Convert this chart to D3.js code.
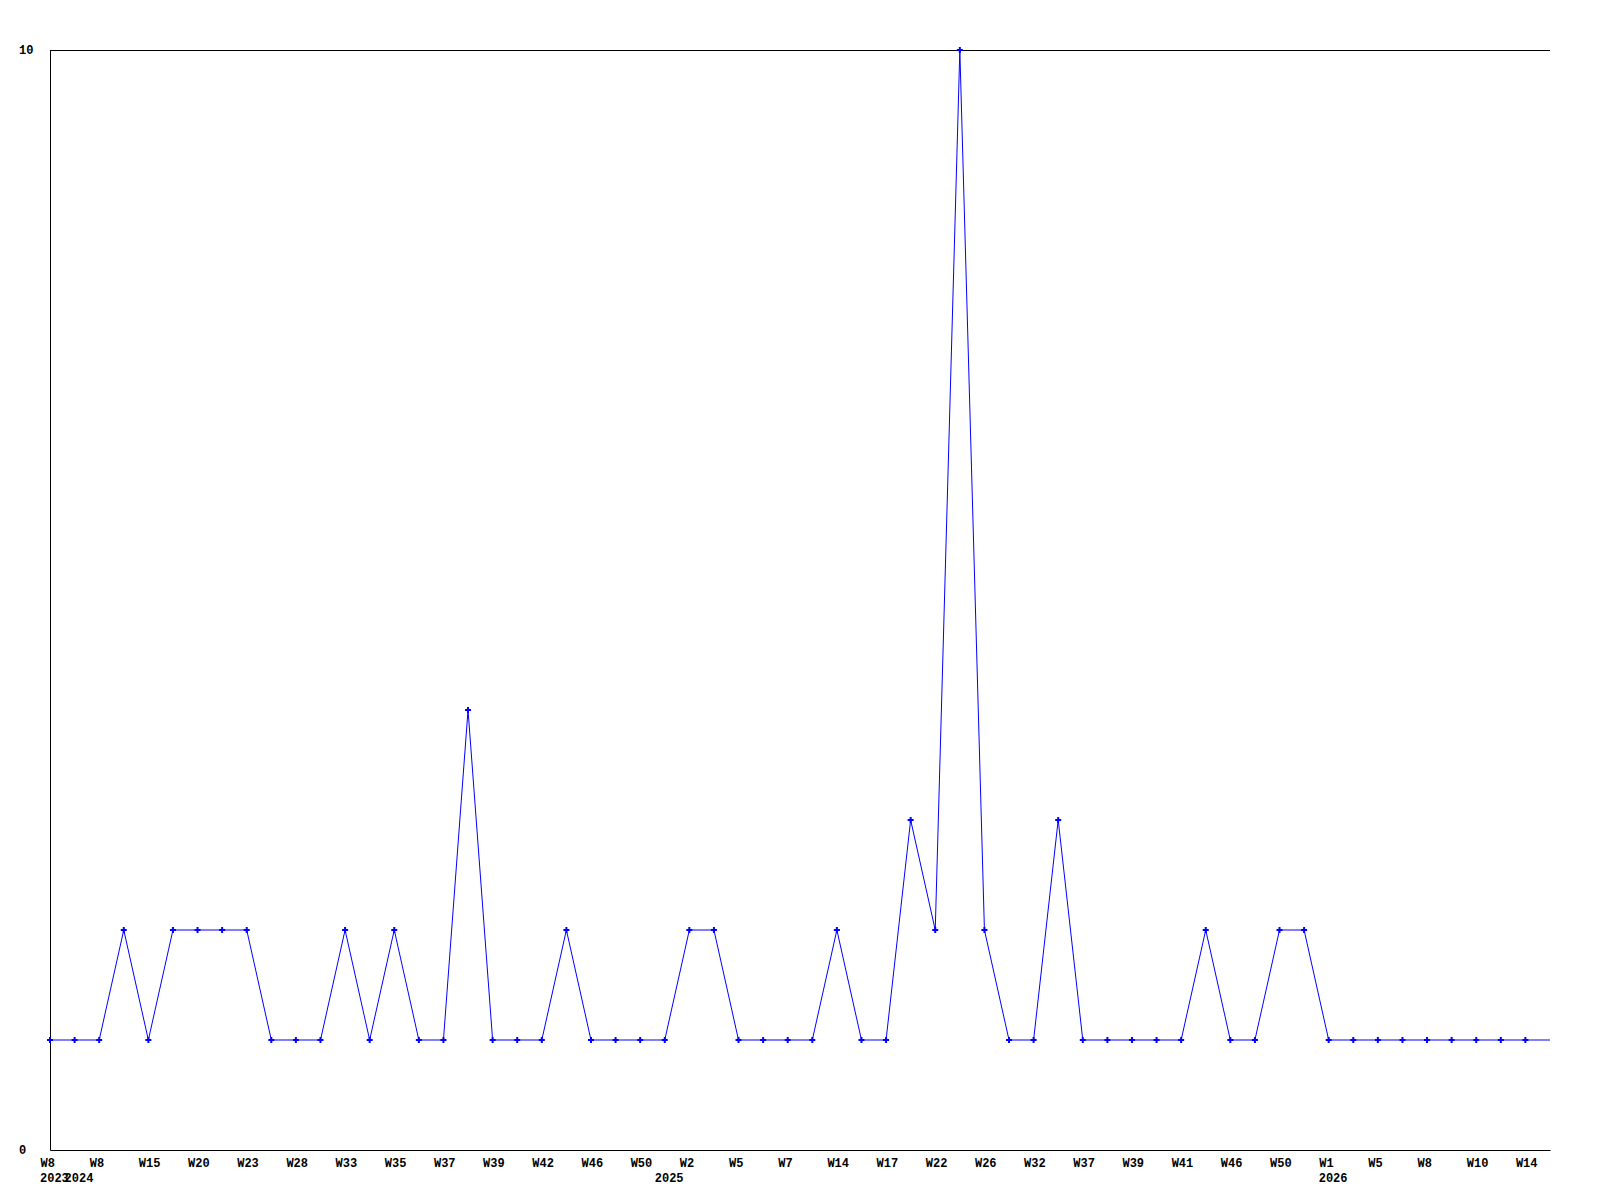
<!DOCTYPE html>
<html>
<head>
    <style>
        body { margin: 0; background: #fff; }
        svg text {
            font-family: "Liberation Mono", "DejaVu Sans Mono", monospace;
            font-size: 12px;
            font-weight: bold;
            fill: #000;
        }
    </style>
    <script src="https://d3js.org/d3.v7.min.js"></script>
</head>
<body>
    <svg width="1600" height="1200"></svg>
    <script>
        // weekly counts, one per category on the x axis
        var weeks = ["W8", "W3", "W8", "W11", "W15", "W17", "W20", "W21", "W23", "W25",
                     "W28", "W30", "W33", "W34", "W35", "W36", "W37", "W38", "W39", "W41",
                     "W42", "W44", "W46", "W48", "W50", "W1", "W2", "W3", "W5", "W6",
                     "W7", "W10", "W14", "W15", "W17", "W19", "W22", "W24", "W26", "W28",
                     "W32", "W35", "W37", "W38", "W39", "W40", "W41", "W44", "W46", "W48",
                     "W50", "W52", "W1", "W3", "W5", "W6", "W8", "W9", "W10", "W12",
                     "W14", "W15"];
        var years = [2023, 2024, 2024, 2024, 2024, 2024, 2024, 2024, 2024, 2024,
                     2024, 2024, 2024, 2024, 2024, 2024, 2024, 2024, 2024, 2024,
                     2024, 2024, 2024, 2024, 2024, 2025, 2025, 2025, 2025, 2025,
                     2025, 2025, 2025, 2025, 2025, 2025, 2025, 2025, 2025, 2025,
                     2025, 2025, 2025, 2025, 2025, 2025, 2025, 2025, 2025, 2025,
                     2025, 2025, 2026, 2026, 2026, 2026, 2026, 2026, 2026, 2026,
                     2026, 2026];
        var counts = [1, 1, 1, 2, 1, 2, 2, 2, 2, 1,
                      1, 1, 2, 1, 2, 1, 1, 4, 1, 1,
                      1, 2, 1, 1, 1, 1, 2, 2, 1, 1,
                      1, 1, 2, 1, 1, 3, 2, 10, 2, 1,
                      1, 3, 1, 1, 1, 1, 1, 2, 1, 1,
                      2, 2, 1, 1, 1, 1, 1, 1, 1, 1,
                      1, 1];
        var yTicks = [0, 10];

        var svg = d3.select("svg");
        var idx = d3.range(counts.length);

        var x = d3.scalePoint().domain(idx).range([50, 1550]);
        var y = d3.scaleLinear().domain([0, 10]).range([1150, 50]);

        // top line at max value
        svg.append("line")
           .attr("x1", 50).attr("x2", 1550)
           .attr("y1", y(10) + 0.5).attr("y2", y(10) + 0.5)
           .attr("stroke", "#000");

        // x axis
        var xAxis = svg.append("g")
           .attr("transform", "translate(0," + y(0) + ")")
           .call(d3.axisBottom(x)
                 .tickValues(idx.filter(function(i) { return i % 2 == 0; }))
                 .tickFormat(function(i) { return weeks[i]; })
                 .tickSize(0)
                 .tickSizeOuter(0));
        xAxis.select(".domain").attr("stroke", "#000");
        xAxis.selectAll("text")
             .attr("font-family", null).attr("font-size", null)
             .attr("text-anchor", "start")
             .attr("x", -10).attr("y", 17).attr("dy", null);

        // year labels where the year changes
        svg.append("g").selectAll("text")
           .data(idx.filter(function(i) { return i == 0 || years[i] != years[i - 1]; }))
           .enter().append("text")
           .attr("x", function(i) { return x(i) - 10; })
           .attr("y", 1182)
           .text(function(i) { return years[i]; });

        // y axis
        var yAxis = svg.append("g")
           .attr("transform", "translate(50,0)")
           .call(d3.axisLeft(y).tickValues(yTicks).tickSize(0).tickSizeOuter(0));
        yAxis.select(".domain").attr("stroke", "#000");
        yAxis.selectAll("text")
             .attr("font-family", null).attr("font-size", null)
             .attr("text-anchor", "start")
             .attr("x", -31);

        // line
        var line = d3.line()
                     .x(function(i) { return x(i); })
                     .y(function(i) { return y(counts[i]); });

        svg.append("path")
           .datum(idx)
           .attr("d", line)
           .attr("fill", "none")
           .attr("stroke", "#0000ff")
           .attr("stroke-width", 1);

        // markers (last point has none)
        svg.append("g").selectAll("path")
           .data(idx.slice(0, -1))
           .enter().append("path")
           .attr("d", d3.symbol().type(d3.symbolCross).size(20))
           .attr("transform", function(i) { return "translate(" + x(i) + "," + y(counts[i]) + ")"; })
           .attr("fill", "#0000ff");
    </script>
</body>
</html>
